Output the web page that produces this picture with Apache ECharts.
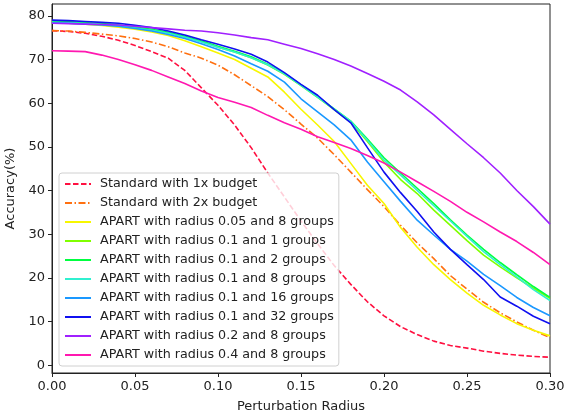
<!DOCTYPE html>
<html lang="en">
<head>
    <meta charset="UTF-8">
    <title>Accuracy vs Perturbation Radius</title>
    <script src="https://cdn.jsdelivr.net/npm/echarts@6/dist/echarts.min.js"></script>
    <style>
        html, body { margin: 0; padding: 0; background: #fff; }
        #mychart { width: 566px; height: 413px; }
    </style>
</head>
<body>
    <div id="mychart"></div>
</body>
<script>
    // perturbation radius 0.00 .. 0.30, step 0.01
    var radius = [0.00, 0.01, 0.02, 0.03, 0.04, 0.05, 0.06, 0.07, 0.08, 0.09, 0.10,
        0.11, 0.12, 0.13, 0.14, 0.15, 0.16, 0.17, 0.18, 0.19, 0.20,
        0.21, 0.22, 0.23, 0.24, 0.25, 0.26, 0.27, 0.28, 0.29, 0.30];

    var std1x = [76.6, 76.4, 76.0, 75.3, 74.4, 73.2, 71.8, 70.3, 67.5, 63.5, 59.5,
        55.0, 49.8, 44.0, 38.5, 33.0, 27.8, 22.8, 18.5, 14.5, 11.3,
        8.8, 7.0, 5.5, 4.5, 3.9, 3.2, 2.7, 2.3, 2.0, 1.8];
    var std2x = [76.6, 76.5, 76.2, 75.8, 75.4, 74.8, 74.0, 72.9, 71.5, 70.3, 68.7,
        66.5, 64.0, 61.5, 58.5, 55.2, 52.0, 48.2, 44.2, 40.2, 36.3,
        32.0, 28.0, 24.4, 20.5, 17.4, 14.4, 12.0, 9.9, 8.0, 6.3];
    var r005g8 = [78.5, 78.3, 78.1, 77.8, 77.4, 76.9, 76.3, 75.5, 74.3, 72.9, 71.5,
        70.0, 68.0, 66.0, 62.5, 58.6, 55.0, 51.2, 46.2, 41.2, 37.0,
        31.5, 27.0, 23.0, 19.6, 16.5, 13.7, 11.5, 9.5, 8.0, 6.7];
    var r01g1 = [78.6, 78.5, 78.3, 78.1, 77.8, 77.3, 76.8, 76.1, 75.2, 74.1, 72.8,
        71.7, 70.4, 68.7, 66.6, 64.0, 61.3, 58.5, 55.6, 51.2, 46.5,
        42.5, 39.3, 35.5, 32.0, 28.5, 25.2, 22.5, 20.0, 17.6, 15.3];
    var r01g2 = [78.7, 78.6, 78.4, 78.2, 77.9, 77.4, 76.9, 76.2, 75.3, 74.2, 73.0,
        71.9, 70.6, 68.9, 66.8, 64.2, 61.5, 58.7, 55.9, 51.8, 47.5,
        44.0, 40.5, 37.0, 33.3, 29.8, 26.5, 23.5, 20.7, 18.0, 15.5];
    var r01g8 = [78.5, 78.4, 78.2, 78.0, 77.7, 77.2, 76.7, 76.0, 75.1, 74.0, 72.8,
        71.7, 70.4, 68.8, 66.7, 64.1, 61.4, 58.6, 55.8, 51.5, 47.0,
        43.5, 40.0, 36.5, 33.0, 29.5, 26.0, 23.0, 20.2, 17.3, 14.8];
    var r01g16 = [78.4, 78.3, 78.1, 77.9, 77.6, 77.1, 76.5, 75.7, 74.8, 73.6, 72.3,
        70.8, 69.0, 67.3, 64.8, 61.0, 58.0, 55.0, 51.6, 46.5, 42.0,
        37.5, 33.2, 29.8, 26.5, 23.8, 20.8, 18.2, 15.5, 13.2, 11.3];
    var r01g32 = [79.0, 78.9, 78.7, 78.5, 78.3, 77.8, 77.3, 76.5, 75.6, 74.5, 73.5,
        72.4, 71.2, 69.4, 67.0, 64.3, 61.8, 58.5, 55.5, 49.8, 44.2,
        39.5, 35.2, 30.5, 26.5, 23.0, 19.6, 15.6, 13.5, 11.2, 9.5];
    var r02g8 = [78.3, 78.2, 78.1, 78.0, 77.9, 77.6, 77.3, 77.0, 76.7, 76.5, 76.1,
        75.6, 75.0, 74.5, 73.5, 72.5, 71.3, 70.0, 68.5, 66.8, 65.0,
        63.0, 60.3, 57.3, 54.0, 50.7, 47.5, 44.0, 40.0, 36.3, 32.3];
    var r04g8 = [72.0, 71.9, 71.8, 71.0, 70.0, 68.8, 67.5, 66.0, 64.5, 62.8, 61.3,
        60.2, 59.0, 57.2, 55.5, 54.0, 52.3, 51.0, 49.6, 48.0, 46.3,
        44.2, 42.0, 39.8, 37.5, 35.0, 32.8, 30.5, 28.3, 25.8, 23.0];

    var yTicks = [0, 10, 20, 30, 40, 50, 60, 70, 80];

    var names = ['Standard with 1x budget', 'Standard with 2x budget',
        'APART with radius 0.05 and 8 groups', 'APART with radius 0.1 and 1 groups',
        'APART with radius 0.1 and 2 groups', 'APART with radius 0.1 and 8 groups',
        'APART with radius 0.1 and 16 groups', 'APART with radius 0.1 and 32 groups',
        'APART with radius 0.2 and 8 groups', 'APART with radius 0.4 and 8 groups'];
    var values = [std1x, std2x, r005g8, r01g1, r01g2, r01g8, r01g16, r01g32, r02g8, r04g8];
    var colors = ['#ff1040', '#ff7010', '#f7f700', '#80ff00', '#00ff40', '#30f0d0',
        '#1a98ff', '#1010f0', '#a020ff', '#ff18b0'];
    var dashes = [[5.5, 2.5], [7, 2.5, 1.5, 2.5]];

    function pairs(ys) {
        return radius.map(function (r, i) { return [r, ys[i]]; });
    }

    var series = names.map(function (n, i) {
        return {
            name: n,
            type: 'line',
            data: pairs(values[i]),
            showSymbol: false,
            symbol: 'none',
            lineStyle: { color: colors[i], width: 1.6, type: dashes[i] || 'solid' },
            itemStyle: { color: colors[i] },
            animation: false
        };
    });

    var mychart = echarts.init(document.getElementById('mychart'));
    var axisText = { color: '#222', fontSize: 13, fontFamily: 'DejaVu Sans' };

    mychart.setOption({
        animation: false,
        backgroundColor: '#fff',
        grid: {
            left: 52, right: 16, top: 4, bottom: 40, outerBoundsMode: 'none',
            show: true, borderColor: '#222', borderWidth: 1
        },
        xAxis: {
            type: 'value', min: 0, max: 0.3, interval: 0.05,
            name: 'Perturbation Radius', nameLocation: 'middle', nameGap: 27,
            nameTextStyle: axisText,
            axisLine: { onZero: false, lineStyle: { color: '#222' } },
            axisTick: { show: true, length: 4, lineStyle: { color: '#222' } },
            axisLabel: Object.assign({ margin: 7, formatter: function (v) { return v.toFixed(2); } }, axisText),
            splitLine: { show: false }
        },
        yAxis: {
            type: 'value', min: -1.8, max: 82.7,
            name: 'Accuracy(%)', nameLocation: 'middle', nameGap: 30,
            nameTextStyle: axisText,
            axisLine: { show: true, onZero: false, lineStyle: { color: '#222' } },
            axisTick: { show: true, length: 4, customValues: yTicks, lineStyle: { color: '#222' } },
            axisLabel: Object.assign({ margin: 7, customValues: yTicks }, axisText),
            splitLine: { show: false }
        },
        legend: {
            orient: 'vertical', left: 59, top: 173,
            itemWidth: 26, itemHeight: 14, itemGap: 5.0,
            padding: [4, 5, 4, 5],
            backgroundColor: 'rgba(255,255,255,0.8)',
            borderColor: '#d0d0d0', borderWidth: 1, borderRadius: 3,
            itemStyle: { opacity: 0 },
            textStyle: { color: '#222', fontSize: 12.7, lineHeight: 14, fontFamily: 'DejaVu Sans', padding: [0, 0, 0, 4] },
            data: names
        },
        series: series
    });
</script>
</html>
